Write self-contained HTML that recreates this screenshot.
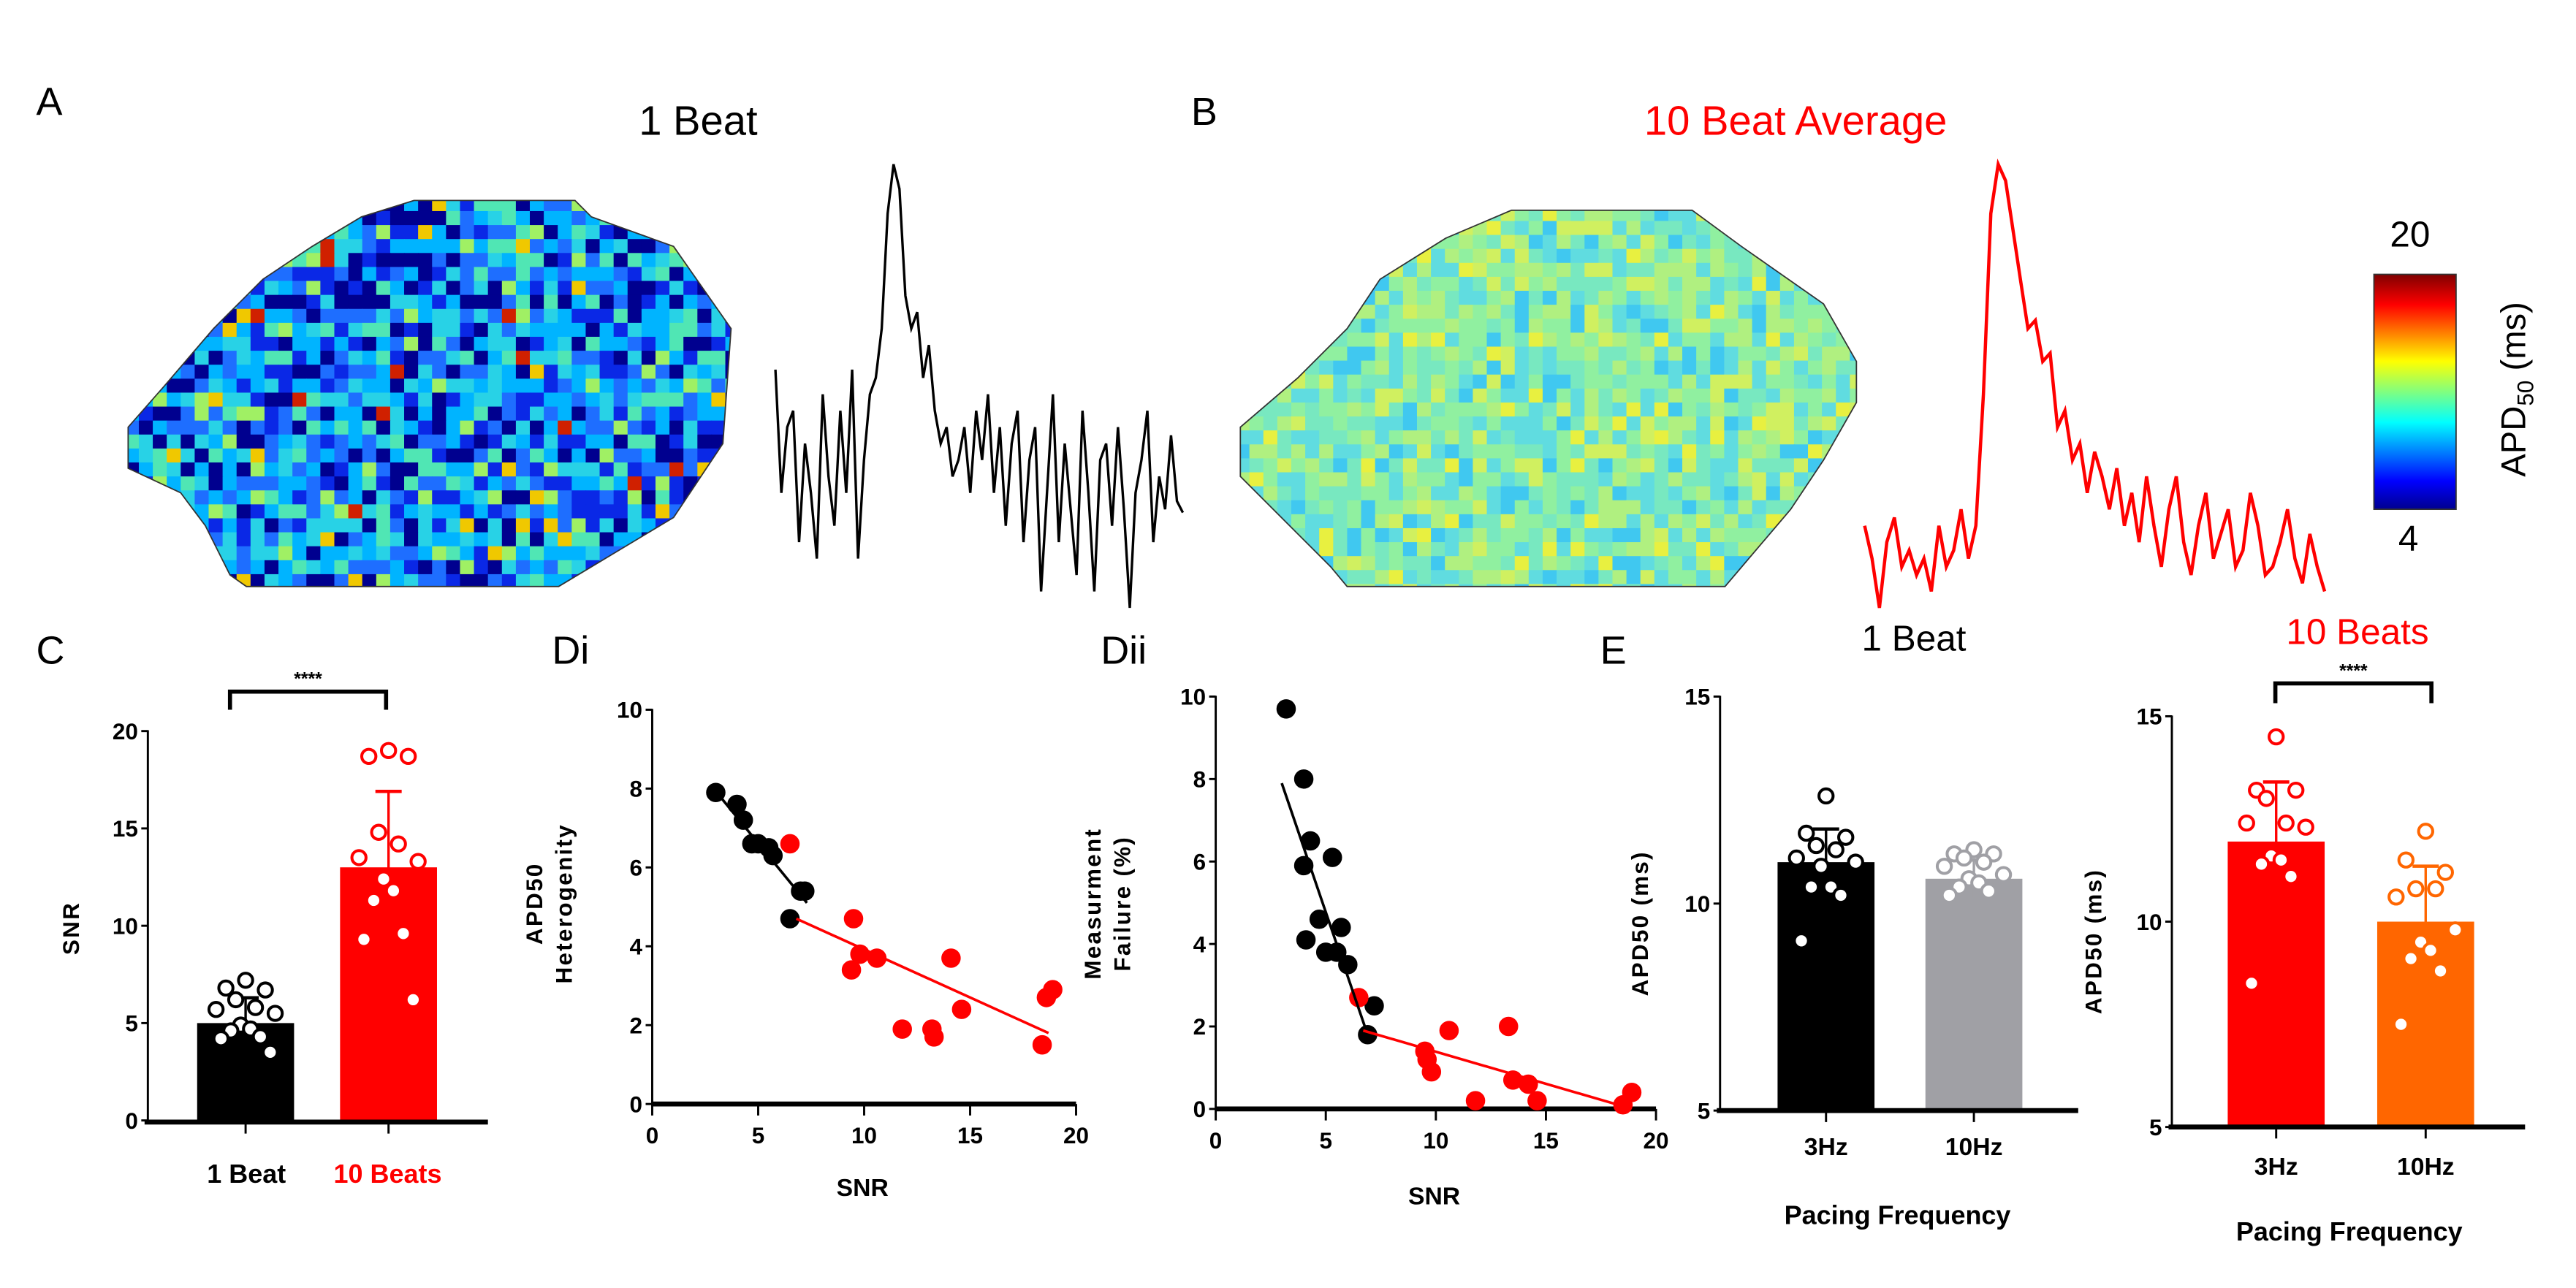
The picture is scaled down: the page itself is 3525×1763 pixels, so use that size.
<!DOCTYPE html>
<html><head><meta charset="utf-8">
<style>
html,body{margin:0;padding:0;background:#fff;}
svg{display:block;}
text{font-family:"Liberation Sans",Arial,sans-serif;}
</style></head>
<body>
<svg id="fig" xmlns="http://www.w3.org/2000/svg" width="3525" height="1763" viewBox="0 0 1568 784" preserveAspectRatio="none">
<defs>
<clipPath id="clipA"><polygon points="252,122 350,122 360,132 410,150 445,200 440,270 410,315 360,345 340,357 150,357 140,350 125,320 110,300 78,285 78,260 100,235 130,200 160,170 190,150 220,132"/></clipPath>
<clipPath id="clipB"><polygon points="920,128 1030,128 1060,150 1110,185 1130,220 1130,245 1110,280 1090,310 1050,357 820,357 810,345 780,315 755,290 755,260 790,230 820,200 840,170 880,145"/></clipPath>
<linearGradient id="cbar" x1="0" y1="1" x2="0" y2="0">
<stop offset="0" stop-color="#00008f"/><stop offset="0.12" stop-color="#0000ff"/><stop offset="0.37" stop-color="#00ffff"/><stop offset="0.5" stop-color="#80ff80"/><stop offset="0.63" stop-color="#ffff00"/><stop offset="0.87" stop-color="#ff0000"/><stop offset="1" stop-color="#800000"/>
</linearGradient>
</defs>
<g id="top">
<text x="22" y="70" font-size="24">A</text>
<text x="425" y="82" font-size="25" text-anchor="middle">1 Beat</text>
<text x="725" y="76" font-size="24">B</text>
<text x="1093" y="82" font-size="25" text-anchor="middle" fill="#ff0000">10 Beat Average</text>
<g id="mapA" clip-path="url(#clipA)"></g>
<polygon points="252,122 350,122 360,132 410,150 445,200 440,270 410,315 360,345 340,357 150,357 140,350 125,320 110,300 78,285 78,260 100,235 130,200 160,170 190,150 220,132" fill="none" stroke="#333" stroke-width="0.8"/>
<g id="mapB" clip-path="url(#clipB)"></g>
<polygon points="920,128 1030,128 1060,150 1110,185 1130,220 1130,245 1110,280 1090,310 1050,357 820,357 810,345 780,315 755,290 755,260 790,230 820,200 840,170 880,145" fill="none" stroke="#333" stroke-width="0.8"/>
<polyline id="traceA" fill="none" stroke="#000" stroke-width="1.5"/>
<polyline id="traceB" fill="none" stroke="#ff0000" stroke-width="2"/>
<rect x="1445" y="167" width="50" height="143" fill="url(#cbar)" stroke="#333" stroke-width="0.8"/>
<text x="1467" y="150" font-size="22" text-anchor="middle">20</text>
<text x="1466" y="335" font-size="22" text-anchor="middle">4</text>
<text transform="translate(1537,237) rotate(-90)" font-size="21" text-anchor="middle">APD<tspan font-size="14" dy="5">50</tspan><tspan dy="-5"> (ms)</tspan></text>
<text x="1165" y="396" font-size="22" text-anchor="middle">1 Beat</text>
<text x="1435" y="392" font-size="22" text-anchor="middle" fill="#ff0000">10 Beats</text>
<text x="22" y="404" font-size="24">C</text>
<text x="336" y="404" font-size="24">Di</text>
<text x="670" y="404" font-size="24">Dii</text>
<text x="974" y="404" font-size="24">E</text>
</g>
<g id="charts"></g>
</svg>
<script>
// ---------- Panel C data ----------
const cCategories = ["1 Beat", "10 Beats"];
const cMeans = [5.0, 13.0];
const cSD = [1.3, 3.9];
const cBeat1 = [7.2, 6.8, 6.7, 6.2, 5.8, 5.7, 5.5, 4.9, 4.7, 4.6, 4.3, 4.2, 3.5];
const cBeat10 = [19.0, 18.7, 18.7, 14.8, 14.2, 13.5, 13.3, 12.4, 11.8, 11.3, 9.6, 9.3, 6.2];
const cTicks = [0, 5, 10, 15, 20];
// ---------- Panel Di data ----------
const diBlackX = [3.0, 4.0, 4.3, 4.7, 5.0, 5.5, 5.7, 6.5, 7.0, 7.2];
const diBlackY = [7.9, 7.6, 7.2, 6.6, 6.6, 6.5, 6.3, 4.7, 5.4, 5.4];
const diRedX = [6.5, 9.5, 9.4, 9.8, 10.6, 11.8, 13.2, 13.3, 14.1, 14.6, 18.4, 18.6, 18.9];
const diRedY = [6.6, 4.7, 3.4, 3.8, 3.7, 1.9, 1.9, 1.7, 3.7, 2.4, 1.5, 2.7, 2.9];
const diBlackFit = [[3.2, 7.8], [7.3, 5.1]];
const diRedFit = [[6.8, 4.7], [18.7, 1.8]];
const diYTicks = [0, 2, 4, 6, 8, 10];
const snrTicks = [0, 5, 10, 15, 20];
// ---------- Panel Dii data ----------
const diiBlackX = [3.2, 4.0, 4.0, 4.1, 4.3, 4.7, 5.0, 5.3, 5.5, 5.7, 6.0, 7.2, 6.9];
const diiBlackY = [9.7, 8.0, 5.9, 4.1, 6.5, 4.6, 3.8, 6.1, 3.8, 4.4, 3.5, 2.5, 1.8];
const diiRedX = [6.5, 9.5, 9.6, 9.8, 10.6, 11.8, 13.3, 13.5, 14.2, 14.6, 18.5, 18.9];
const diiRedY = [2.7, 1.4, 1.2, 0.9, 1.9, 0.2, 2.0, 0.7, 0.6, 0.2, 0.1, 0.4];
const diiBlackFit = [[3.0, 7.9], [6.9, 1.8]];
const diiRedFit = [[6.7, 1.9], [18.6, 0.05]];
// ---------- Panel E data ----------
const eCategories = ["3Hz", "10Hz"];
const eLeftMeans = [11.0, 10.6];
const eLeftSD = [0.8, 0.45];
const eLeft3Hz = [12.6, 11.7, 11.6, 11.4, 11.3, 11.1, 11.0, 10.9, 10.4, 10.4, 10.2, 9.1];
const eLeft10Hz = [11.3, 11.2, 11.2, 11.1, 11.0, 10.9, 10.7, 10.6, 10.5, 10.4, 10.3, 10.2];
const eRightMeans = [11.95, 10.0];
const eRightSD = [1.45, 1.35];
const eRight3Hz = [14.5, 13.2, 13.2, 13.0, 12.4, 12.4, 12.3, 11.6, 11.5, 11.4, 11.1, 8.5];
const eRight10Hz = [12.2, 11.5, 11.2, 10.8, 10.8, 10.6, 9.8, 9.5, 9.3, 9.1, 8.8, 7.5];
const eTicks = [5, 10, 15];
// ---------- Traces ----------
const traceAValues = [225,300,260,250,330,270,300,340,240,290,320,250,300,225,340,280,240,230,200,130,100,115,180,200,190,230,210,250,270,260,290,280,260,300,250,280,240,300,260,320,270,250,330,280,260,360,300,240,330,270,310,350,250,300,360,280,270,320,260,310,370,300,280,250,330,290,310,265,305,312];
const traceBValues = [320,340,370,330,315,345,335,350,340,360,320,345,335,310,340,320,240,130,100,110,140,170,200,195,220,215,260,250,280,270,300,275,290,310,285,320,300,330,290,320,345,310,290,330,350,320,300,340,325,310,345,335,300,320,350,345,330,310,340,355,325,345,360];

const NS = "http://www.w3.org/2000/svg";
const charts = document.getElementById('charts');
function mk(tag, attrs, parent, txt) {
  const e = document.createElementNS(NS, tag);
  for (const k in attrs) e.setAttribute(k, attrs[k]);
  if (txt !== undefined) e.textContent = txt;
  (parent || charts).appendChild(e);
  return e;
}
function lin(d0, d1, r0, r1) { return v => r0 + (v - d0) * (r1 - r0) / (d1 - d0); }

// ---- traces ----
(function () {
  const ta = document.getElementById('traceA');
  const xa = lin(0, traceAValues.length - 1, 472, 720);
  ta.setAttribute('points', traceAValues.map((v, i) => xa(i).toFixed(1) + ',' + v).join(' '));
  const tb = document.getElementById('traceB');
  const xb = lin(0, traceBValues.length - 1, 1135, 1415);
  tb.setAttribute('points', traceBValues.map((v, i) => xb(i).toFixed(1) + ',' + v).join(' '));
})();

// ---- map textures (image-like, not chart data) ----
function fillMap(gid, x0, x1, y0, y1, pal, weights) {
  const g = document.getElementById(gid);
  const cs = 8.5;
  let k = 0;
  for (let y = y0; y < y1; y += cs) {
    for (let x = x0; x < x1; x += cs) {
      k++;
      const h = Math.abs(Math.sin(k * 12.9898 + x * 0.0781 + y * 0.0373) * 43758.5453) % 1;
      let acc = 0, c = pal[0];
      for (let i = 0; i < pal.length; i++) { acc += weights[i]; if (h < acc) { c = pal[i]; break; } }
      const r = document.createElementNS(NS, 'rect');
      r.setAttribute('x', x); r.setAttribute('y', y);
      r.setAttribute('width', cs + 0.3); r.setAttribute('height', cs + 0.3);
      r.setAttribute('fill', c);
      
      
      g.appendChild(r);
    }
  }
}
fillMap('mapA', 76, 446, 120, 360, ['#00008f','#0a28e6','#1e6eff','#00b4ff','#28d2e6','#50e6b4','#a0f064','#f0c800','#d02000'], [0.16,0.14,0.16,0.2,0.14,0.1,0.06,0.025,0.015]);
fillMap('mapB', 752, 1134, 126, 360, ['#40c8f0','#60dce0','#78e8c0','#90f0a0','#b0f080','#d0f060','#e8f040'], [0.1,0.18,0.2,0.2,0.16,0.1,0.06]);

// ---- generic axes helpers ----
function yAxis(x, yTop, yBot, sc, ticks, tickFmt) {
  const ax = mk('line', {x1: x, y1: yTop - 0.5, x2: x, y2: yBot, stroke: '#000', 'stroke-width': 1.3});
  
  
  ticks.forEach(t => {
    const tk = mk('line', {x1: x - 4, y1: sc(t), x2: x, y2: sc(t), stroke: '#000', 'stroke-width': 1.3});
    
    
    const lb = mk('text', {x: x - 6, y: sc(t) + 5, 'font-size': 14, 'text-anchor': 'end', 'font-weight': 'bold'}, charts, String(t));
    
    
  });
}
function xAxisLine(x0, x1, y) {
  const ax = mk('line', {x1: x0, y1: y, x2: x1, y2: y, stroke: '#000', 'stroke-width': 3});
  
  
}
function rotLabel(x, y, lines, size) {
  lines.forEach((s, i) => {
    const t = mk('text', {transform: `translate(${x + i * (size + 4)},${y}) rotate(-90)`, 'font-size': size, 'font-weight': 'bold', 'text-anchor': 'middle', 'letter-spacing': 1}, charts, s);
    
    
  });
}
function label(x, y, s, size, fill, name) {
  const t = mk('text', {x: x, y: y, 'font-size': size, 'font-weight': 'bold', 'text-anchor': 'middle', fill: fill || '#000'}, charts, s);
  
  
  return t;
}
function dots(xs, ys, sx, sy, fill, stroke, r, name) {
  xs.forEach((xv, i) => {
    const c = mk('circle', {cx: sx(xv), cy: sy(ys[i]), r: r, fill: fill, stroke: stroke, 'stroke-width': 1.8});
    
    
  });
}
function jitterX(center, n, i) {
  const offs = [0, -12, 12, -6, 6, -18, 18, -3, 3, -9, 9, -15, 15];
  return center + offs[i % offs.length];
}
function barGroup(bx, bw, base, sy, mean, sd, vals, color, dotStroke, name) {
  const b = mk('rect', {x: bx, y: sy(mean), width: bw, height: base - sy(mean), fill: color});
  
  
  const cx = bx + bw / 2;
  const el = mk('line', {x1: cx, y1: sy(mean + sd), x2: cx, y2: sy(mean - sd), stroke: color === '#000' ? '#000' : color, 'stroke-width': 1.5});
  
  
  const cap = mk('line', {x1: cx - 8, y1: sy(mean + sd), x2: cx + 8, y2: sy(mean + sd), stroke: color, 'stroke-width': 2});
  
  
  vals.forEach((v, i) => {
    const c = mk('circle', {cx: jitterX(cx, vals.length, i), cy: sy(v), r: 4.3, fill: '#fff', stroke: dotStroke, 'stroke-width': 1.8});
    
    
  });
}
function bracket(x0, x1, yTop, yBot, sx) {
  const p = mk('polyline', {points: `${x0},${yBot} ${x0},${yTop} ${x1},${yTop} ${x1},${yBot}`, fill: 'none', stroke: '#000', 'stroke-width': 2.5});
  
  
  label((x0 + x1) / 2, yTop - 4, '****', 11, '#000', 'significance-stars');
}

// ---- Panel C ----
(function () {
  const sy = lin(0, 20, 682, 445);
  yAxis(90, 445, 683, sy, cTicks);
  const pos = [120, 207], bw = 59;
  barGroup(pos[0], bw, 682, sy, cMeans[0], cSD[0], cBeat1, '#000', '#000', 'bar-1-beat');
  barGroup(pos[1], bw, 682, sy, cMeans[1], cSD[1], cBeat10, '#ff0000', '#ff0000', 'bar-10-beats');
  xAxisLine(88, 297, 683);
  pos.forEach(p => { const t = mk('line', {x1: p + bw / 2, y1: 683, x2: p + bw / 2, y2: 690, stroke: '#000', 'stroke-width': 1.3});   });
  label(150, 720, cCategories[0], 16, '#000', 'x-label-1-beat');
  label(236, 720, cCategories[1], 16, '#ff0000', 'x-label-10-beats');
  rotLabel(48, 565, ['SNR'], 14);
  bracket(140, 235, 421, 432);
})();

// ---- scatter panel helper ----
function scatterPanel(ax0, ax1, yTop, yBot, yMax, bx, by, rx, ry, bfit, rfit, ylab, ylabX, snrX, snrY, pfx) {
  const sx = lin(0, 20, ax0, ax1), sy = lin(0, yMax, yBot, yTop);
  yAxis(ax0, yTop, yBot, sy, diYTicks);
  xAxisLine(ax0, ax1, yBot);
  snrTicks.forEach(t => {
    const tk = mk('line', {x1: sx(t), y1: yBot, x2: sx(t), y2: yBot + 7, stroke: '#000', 'stroke-width': 1.3});
    
    
    const lb = mk('text', {x: sx(t), y: yBot + 24, 'font-size': 14, 'text-anchor': 'middle', 'font-weight': 'bold'}, charts, String(t));
    
    
  });
  label(snrX, snrY, 'SNR', 15, '#000', pfx + '-x-axis-title');
  rotLabel(ylabX, 550, ylab, 14);
  dots(bx, by, sx, sy, '#000', '#000', 5, pfx + '-black-point');
  dots(rx, ry, sx, sy, '#ff0000', '#ff0000', 5, pfx + '-red-point');
  const l1 = mk('line', {x1: sx(bfit[0][0]), y1: sy(bfit[0][1]), x2: sx(bfit[1][0]), y2: sy(bfit[1][1]), stroke: '#000', 'stroke-width': 1.6});
  
  
  const l2 = mk('line', {x1: sx(rfit[0][0]), y1: sy(rfit[0][1]), x2: sx(rfit[1][0]), y2: sy(rfit[1][1]), stroke: '#ff0000', 'stroke-width': 1.6});
  
  
}
scatterPanel(397, 655, 432, 672, 10, diBlackX, diBlackY, diRedX, diRedY, diBlackFit, diRedFit, ['APD50', 'Heterogenity'], 330, 525, 728, 'di');
scatterPanel(740, 1008, 424, 675, 10, diiBlackX, diiBlackY, diiRedX, diiRedY, diiBlackFit, diiRedFit, ['Measurment', 'Failure (%)'], 670, 873, 733, 'dii');

// ---- Panel E ----
function ePanel(ax, yTop, yBot, xEnd, pos, bw, means, sds, v1, v2, cols, strokes, xlabY, pfY, pfX, ylabX, pfx) {
  const sy = lin(5, 15, yBot, yTop);
  yAxis(ax, yTop, yBot, sy, eTicks);
  barGroup(pos[0], bw, yBot, sy, means[0], sds[0], v1, cols[0], strokes[0], pfx + '-bar-3hz');
  barGroup(pos[1], bw, yBot, sy, means[1], sds[1], v2, cols[1], strokes[1], pfx + '-bar-10hz');
  xAxisLine(ax - 2, xEnd, yBot);
  pos.forEach((p, i) => {
    const t = mk('line', {x1: p + bw / 2, y1: yBot, x2: p + bw / 2, y2: yBot + 7, stroke: '#000', 'stroke-width': 1.3});
    
    
    label(p + bw / 2, xlabY, eCategories[i], 15, '#000', pfx + '-x-label');
  });
  label(pfX, pfY, 'Pacing Frequency', 16, '#000', pfx + '-x-axis-title');
  rotLabel(ylabX, (yTop + yBot) / 2 + 12, ['APD50 (ms)'], 14);
}
ePanel(1047, 424, 676, 1265, [1082, 1172], 59, eLeftMeans, eLeftSD, eLeft3Hz, eLeft10Hz, ['#000', '#a0a0a5'], ['#000', '#a0a0a5'], 703, 745, 1155, 1003, 'e-left');
ePanel(1322, 436, 686, 1537, [1356, 1447], 59, eRightMeans, eRightSD, eRight3Hz, eRight10Hz, ['#ff0000', '#ff6600'], ['#ff0000', '#ff6600'], 715, 755, 1430, 1279, 'e-right');
bracket(1385, 1480, 416, 428);
</script>
</body></html>
